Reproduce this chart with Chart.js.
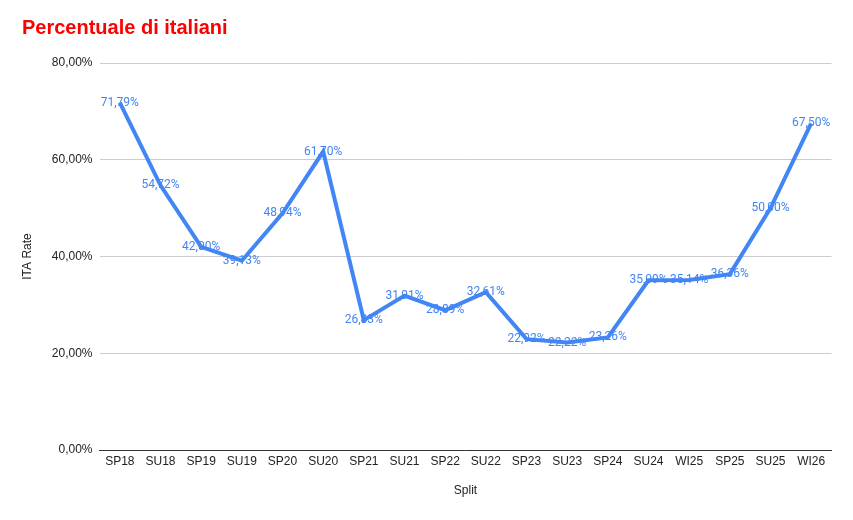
<!DOCTYPE html>
<html>
<head>
<meta charset="utf-8">
<script src="https://cdn.jsdelivr.net/npm/chart.js@4.4.1/dist/chart.umd.min.js"></script>
<style>
  html, body { margin: 0; padding: 0; background: #fff; }
  #wrap { width: 853px; height: 520px; }
</style>
</head>
<body>
<div id="wrap"><canvas id="itaChart" width="853" height="520"></canvas></div>
<script>
// Split e percentuale di italiani
const splits = ['SP18', 'SU18', 'SP19', 'SU19', 'SP20', 'SU20', 'SP21', 'SU21', 'SP22',
    'SU22', 'SP23', 'SU23', 'SP24', 'SU24', 'WI25', 'SP25', 'SU25', 'WI26'];
const itaRate = [71.79, 54.72, 42.00, 39.13, 48.94, 61.70, 26.83, 31.91, 28.89,
    32.61, 22.92, 22.22, 23.26, 35.09, 35.14, 36.36, 50.00, 67.50];
const yTicks = [0, 20, 40, 60, 80];

const blue = '#4285F4';
const fmtPct = v => v.toFixed(2).replace('.', ',') + '%';

// etichette sui punti (sotto la linea, come nell'originale)
const pointLabels = {
    id: 'pointLabels',
    beforeDatasetsDraw(chart) {
        const ctx = chart.ctx;
        const meta = chart.getDatasetMeta(0);
        ctx.save();
        ctx.font = '12px Roboto';
        ctx.fillStyle = blue;
        ctx.textAlign = 'center';
        ctx.textBaseline = 'middle';
        meta.data.forEach((pt, i) => {
            ctx.fillText(fmtPct(itaRate[i]), pt.x, pt.y);
        });
        ctx.restore();
    }
};

Chart.defaults.font.family = '"Liberation Sans", Arial, sans-serif';
Chart.defaults.font.size = 12;
Chart.defaults.color = '#222';

new Chart(document.getElementById('itaChart'), {
    type: 'line',
    data: {
        labels: splits,
        datasets: [{
            label: 'ITA Rate',
            data: itaRate,
            borderColor: blue,
            borderWidth: 4,
            pointRadius: 0,
            tension: 0,
            fill: false
        }]
    },
    options: {
        responsive: false,
        animation: false,
        devicePixelRatio: 1,
        layout: { padding: { left: 22, right: 21.5, top: 0, bottom: 0 } },
        plugins: {
            legend: { display: false },
            tooltip: { enabled: false },
            title: {
                display: true,
                text: 'Percentuale di italiani',
                align: 'start',
                color: '#ff0000',
                font: { size: 20, weight: 'bold' },
                padding: { top: 16, bottom: 23 }
            }
        },
        scales: {
            x: {
                offset: true,
                grid: { display: false, drawTicks: false, offset: true },
                border: { display: true, color: '#333', width: 1 },
                ticks: { padding: 4, color: '#222', autoSkip: false, maxRotation: 0 },
                title: {
                    display: true,
                    text: 'Split',
                    color: '#222',
                    font: { size: 12, lineHeight: 1 },
                    padding: { top: 0, bottom: 23 }
                },
                afterFit(scale) { scale.height = 70; }
            },
            y: {
                min: 0,
                max: 80,
                afterBuildTicks(scale) {
                    scale.ticks = yTicks.map(v => ({ value: v }));
                },
                grid: { color: '#cccccc', drawTicks: false },
                border: { display: false },
                ticks: { padding: 7, color: '#222', callback: v => fmtPct(v) },
                title: {
                    display: true,
                    text: 'ITA Rate',
                    color: '#222',
                    font: { size: 12, lineHeight: 1 },
                    padding: { top: 0, bottom: 0 }
                },
                afterFit(scale) { scale.width = 77.5; }
            }
        }
    },
    plugins: [pointLabels]
});
</script>
</body>
</html>
